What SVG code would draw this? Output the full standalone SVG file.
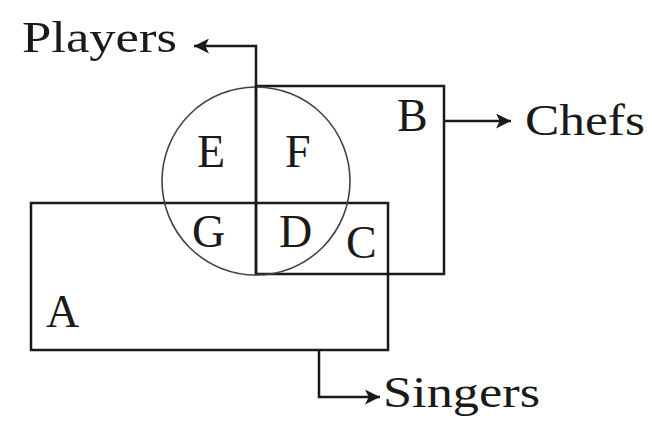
<svg xmlns="http://www.w3.org/2000/svg" width="652" height="425" viewBox="0 0 652 425">
<defs>
<style>
.shape{fill:none;stroke:#1a1a1a;stroke-width:2.5}
.circ{fill:none;stroke:#444;stroke-width:1.6}
.conn{fill:none;stroke:#1a1a1a;stroke-width:2.5}
.lbl{font-family:"Liberation Serif","Times New Roman",serif;font-size:46px;fill:#1a1a1a}
.cat{font-family:"Liberation Serif","Times New Roman",serif;font-size:44px;fill:#1a1a1a}
</style>
<marker id="arr" viewBox="0 0 10 10" refX="10" refY="5" markerWidth="7" markerHeight="6" markerUnits="strokeWidth" orient="auto">
<path d="M0,0 L10,5 L0,10 L2.5,5 z" fill="#1a1a1a"/>
</marker>
</defs>
<rect width="652" height="425" fill="#fff"/>
<g id="singers-set">
<rect class="shape" x="31" y="203" width="357" height="147"/>
<text class="lbl" x="46" y="327">A</text>
</g>
<g id="chefs-set">
<rect class="shape" x="256" y="86" width="188" height="188"/>
<text class="lbl" x="397" y="131">B</text>
</g>
<g id="players-set">
<circle class="circ" cx="256" cy="181" r="94"/>
<line class="shape" x1="256" y1="86" x2="256" y2="274"/>
</g>
<g id="regions">
<text class="lbl" x="197" y="167">E</text>
<text class="lbl" x="285" y="167">F</text>
<text class="lbl" x="192" y="247">G</text>
<text class="lbl" x="279" y="247">D</text>
<text class="lbl" x="346" y="258">C</text>
</g>
<g id="connectors">
<path class="conn" d="M256,86 L256,46 L194,46" marker-end="url(#arr)"/>
<path class="conn" d="M444,121 L511,121" marker-end="url(#arr)"/>
<path class="conn" d="M319,350 L319,397 L380,397" marker-end="url(#arr)"/>
</g>
<g id="players-label"><text class="cat" x="22" y="52" textLength="155" lengthAdjust="spacingAndGlyphs">Players</text></g>
<g id="chefs-label"><text class="cat" x="525" y="135" textLength="120" lengthAdjust="spacingAndGlyphs">Chefs</text></g>
<g id="singers-label"><text class="cat" x="383" y="407" textLength="157" lengthAdjust="spacingAndGlyphs">Singers</text></g>
</svg>
